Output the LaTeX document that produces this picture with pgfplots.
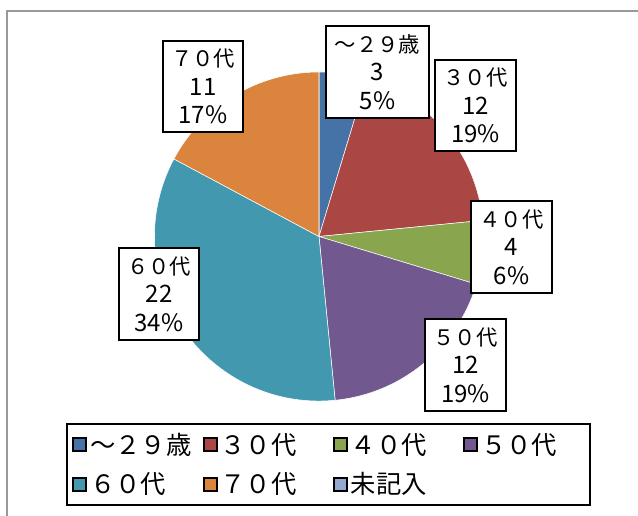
\documentclass[border=0pt]{standalone}
\usepackage{fontspec}
\setmainfont{Noto Sans CJK JP}
\usepackage{pgfplots}
\usepackage{pgfplotstable}
\pgfplotsset{compat=1.18}
\definecolor{pie0}{RGB}{69,114,167}
\definecolor{pie1}{RGB}{170,70,67}
\definecolor{pie2}{RGB}{137,165,78}
\definecolor{pie3}{RGB}{113,88,143}
\definecolor{pie4}{RGB}{65,152,175}
\definecolor{pie5}{RGB}{219,132,61}
\definecolor{pie6}{RGB}{147,169,207}
\newcommand\N[1]{{\fontsize{18}{21.5}\selectfont #1}}
\pgfplotstableread{
value
3
12
4
12
22
11
0
}\piedata
\begin{document}
\begin{tikzpicture}
\begin{axis}[
  hide axis, scale only axis, clip=false,
  width=478.5pt, height=386.25pt,
  xmin=0, xmax=638, ymin=0, ymax=515, y dir=reverse,
  legend columns=4,
  legend image code/.code={\fill[#1] (0pt,-4.875pt) rectangle (9.75pt,4.875pt);},
  legend cell align=left,
  legend style={at={(axis cs:66,423)}, anchor=north west, draw=black, line width=1.5pt,
    inner sep=4pt, font=\fontsize{19}{22}\selectfont, row sep=6pt,
    nodes={text width=76pt, align=left, inner xsep=2pt, inner ysep=3pt},
    /tikz/every even column/.append style={column sep=6.5pt}},
]
% frame
\draw[black!40, line width=1.2pt] (axis cs:7,530) -- (axis cs:7,11) -- (axis cs:650,11);
% pie
\def\tot{0}
\pgfplotsforeachungrouped \i in {0,...,6}{%
  \pgfplotstablegetelem{\i}{value}\of\piedata
  \pgfmathsetmacro\tot{\tot+\pgfplotsretval}%
}
\def\cum{0}
\pgfplotsforeachungrouped \i in {0,...,6}{%
  \pgfplotstablegetelem{\i}{value}\of\piedata
  \let\v\pgfplotsretval
  \pgfmathsetmacro\a{90-\cum/\tot*360}%
  \pgfmathsetmacro\b{90-(\cum+\v)/\tot*360}%
  \pgfmathsetmacro\cum{\cum+\v}%
  \ifdim\v pt>0pt
  \edef\temp{\noexpand\fill[pie\i, draw=white, line width=0.4pt] (axis cs:319,236.5) -- ([shift={(\a:123.4pt)}]axis cs:319,236.5) arc[start angle=\a, end angle=\b, radius=123.4pt] -- cycle;}%
  \temp
  \fi
}
% labels
\tikzset{lbl/.style={draw=black, line width=1.5pt, fill=white, align=center,
  font=\fontsize{16}{21.5}\selectfont, minimum height=68.5pt, inner sep=2pt}}
\node[lbl, minimum width=60pt] at (axis cs:203,86.5) {７０代\\\N{11}\\\N{17\%}};
\node[lbl, minimum width=77.25pt] at (axis cs:377.5,72) {～２９歳\\\N{3}\\\N{5\%}};
\node[lbl, minimum width=60.75pt] at (axis cs:475.5,105.5) {３０代\\\N{12}\\\N{19\%}};
\node[lbl, minimum width=60.75pt] at (axis cs:511.5,247) {４０代\\\N{4}\\\N{6\%}};
\node[lbl, minimum width=60.75pt] at (axis cs:465.5,365) {５０代\\\N{12}\\\N{19\%}};
\node[lbl, minimum width=60pt] at (axis cs:159,294) {６０代\\\N{22}\\\N{34\%}};
% legend
\addlegendimage{fill=pie0}\addlegendentry{～２９歳}
\addlegendimage{fill=pie1}\addlegendentry{３０代}
\addlegendimage{fill=pie2}\addlegendentry{４０代}
\addlegendimage{fill=pie3}\addlegendentry{５０代}
\addlegendimage{fill=pie4}\addlegendentry{６０代}
\addlegendimage{fill=pie5}\addlegendentry{７０代}
\addlegendimage{fill=pie6}\addlegendentry{未記入}
\end{axis}
\pgfresetboundingbox
\useasboundingbox (current axis.south west) rectangle (current axis.north east);
\end{tikzpicture}
\end{document}
